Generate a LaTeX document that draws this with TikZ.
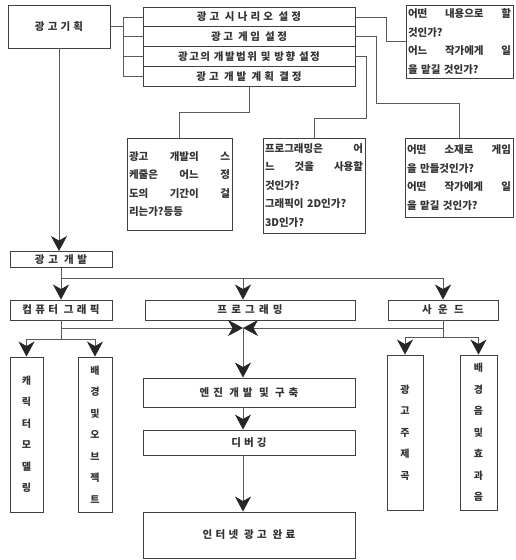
\documentclass[tikz,border=0pt]{standalone}
\usepackage{fontspec}
\setmainfont{Noto Sans CJK KR}
\usetikzlibrary{arrows.meta}

\begin{document}
\begin{tikzpicture}[x=1pt, y=-1pt,
  box/.style={draw=black!75, line width=0.9pt, inner sep=0pt, text=black!80, font=\bfseries\fontsize{10.5}{12}\selectfont},
  qbox/.style={box, align=left, inner sep=2pt, font=\bfseries\fontsize{10.5}{18.5}\selectfont},
  vbox/.style={box, align=center, minimum height=155, font=\bfseries\fontsize{10}{21.5}\selectfont},
  line/.style={draw=black!65, line width=0.8pt},
  arr/.style={line, -{Stealth[length=15pt, width=16pt, inset=4.5pt, color=black!85]}}]

\useasboundingbox (0,0) rectangle (516,560);

%% planning stage
\path
(59,26.5) node[box, minimum width=102, minimum height=43, font=\bfseries\fontsize{10.5}{12}\selectfont\addfontfeature{LetterSpace=30}](plan) {광고기획}
(249,16.9) node[box, minimum width=212, minimum height=19.75, font=\bfseries\fontsize{10.5}{12}\selectfont\addfontfeature{LetterSpace=30}](scen) {광고 시나리오 설정}
(249,36.6) node[box, minimum width=212, minimum height=19.75, font=\bfseries\fontsize{10.5}{12}\selectfont\addfontfeature{LetterSpace=25}](game) {광고 게임 설정}
(249,56.4) node[box, minimum width=212, minimum height=19.75, font=\bfseries\fontsize{10.5}{12}\selectfont\addfontfeature{LetterSpace=14}](range) {광고의 개발범위 및 방향 설정}
(249,76.1) node[box, minimum width=212, minimum height=19.75, font=\bfseries\fontsize{10.5}{12}\selectfont\addfontfeature{LetterSpace=28}](sched) {광고 개발 계획 결정};

%% question boxes
\path
(459.5,41.5) node[qbox, text width=103, minimum height=73](qscen) {어떤\hfill 내용으로\hfill 할\\ 것인가?\\ 어느\hfill 작가에게\hfill 일\\ 을 맡길 것인가?}
(459,177.5) node[qbox, text width=104, minimum height=79](qgame) {어떤\hfill 소재로\hfill 게임\\ 을 만들것인가?\\ 어떤\hfill 작가에게\hfill 일\\ 을 맡길 것인가?}
(314,185.5) node[qbox, text width=98, minimum height=95](qrange) {프로그래밍은\hfill 어\\ 느\hfill 것을\hfill 사용할\\ 것인가?\\ 그래픽이 2D인가?\\ 3D인가?}
(179.5,184) node[qbox, text width=101, minimum height=92](qsched) {광고\hfill 개발의\hfill 스\\ 케줄은\hfill 어느\hfill 정\\ 도의\hfill 기간이\hfill 걸\\ 리는가?등등};

%% development stage
\path
(61,259.5) node[box, minimum width=102, minimum height=16, font=\bfseries\fontsize{10.5}{12}\selectfont\addfontfeature{LetterSpace=35}](dev) {광고 개발}
(61,310) node[box, minimum width=102, minimum height=20, font=\bfseries\fontsize{10.5}{12}\selectfont\addfontfeature{LetterSpace=32}](cg) {컴퓨터 그래픽}
(250,310) node[box, minimum width=210, minimum height=20, font=\bfseries\fontsize{10.5}{12}\selectfont\addfontfeature{LetterSpace=40}](prog) {프로그래밍}
(443,310) node[box, minimum width=110, minimum height=20, font=\bfseries\fontsize{10.5}{12}\selectfont\addfontfeature{LetterSpace=60}](snd) {사운드}
(26.5,434.5) node[vbox, minimum width=33](chr) {캐\\릭\\터\\모\\델\\링}
(95,434.5) node[vbox, minimum width=34](bg) {배\\경\\및\\오\\브\\젝\\트}
(405,432.5) node[vbox, minimum width=36](theme) {광\\고\\주\\제\\곡}
(478.5,432.5) node[vbox, minimum width=37](sfx) {배\\경\\음\\및\\효\\과\\음}
(249,392.5) node[box, minimum width=212, minimum height=29, font=\bfseries\fontsize{10.5}{12}\selectfont\addfontfeature{LetterSpace=38}](eng) {엔진 개발 및 구축}
(249,442.5) node[box, minimum width=212, minimum height=25, font=\bfseries\fontsize{10.5}{12}\selectfont\addfontfeature{LetterSpace=30}](dbg) {디버깅}
(249,535) node[box, minimum width=212, minimum height=46, font=\bfseries\fontsize{10.5}{12}\selectfont\addfontfeature{LetterSpace=32}](fin) {인터넷 광고 완료};

\coordinate (pbus) at (123,0);
\coordinate (bus) at (0,278);
\coordinate (mid) at (243,0);
\coordinate (tie) at (243,328);

%% plan to its four settings
\draw[line] (plan.east) -- (plan.east -| pbus);
\draw[line] (scen.west -| pbus) -- (sched.west -| pbus);
\foreach \n in {scen,game,range,sched}
  \draw[line] (\n.west) -- (\n.west -| pbus);

%% settings to questions
\draw[line] (scen.east) -- ++(31,0) |- (qscen.west);
\draw[line] (game.east) -- ++(21,0) |- (qgame.north |- 0,103) -- (qgame.north);
\draw[line] (range.east) -- ++(11,0) |- (qrange.north |- 0,118) -- (qrange.north);
\draw[line] (sched.south) -- ++(0,26) -| (qsched.north);

%% plan to development
\draw[arr] (plan.south) -- (plan.south |- dev.north);
\draw[line] (dev.south) -- (dev.south |- bus) -- (snd.north |- bus);
\draw[arr] (dev.south |- bus) -- (cg.north);
\draw[arr] (mid |- bus) -- (prog.north -| mid);
\draw[arr] (snd.north |- bus) -- (snd.north);

%% graphics and sound branches
\draw[line] (cg.south) -- (cg.south |- 0,339);
\draw[line] (chr.north |- 0,339) -- (bg.north |- 0,339);
\draw[arr] (chr.north |- 0,339) -- (chr.north);
\draw[arr] (bg.north |- 0,339) -- (bg.north);
\draw[line] (snd.south) -- (snd.south |- 0,337);
\draw[line] (theme.north |- 0,337) -- (sfx.north |- 0,337);
\draw[arr] (theme.north |- 0,337) -- (theme.north);
\draw[arr] (sfx.north |- 0,337) -- (sfx.north);

%% merge into the engine
\draw[arr] (cg.south |- tie) -- (tie);
\draw[arr] (snd.south |- tie) -- (tie);
\draw[arr] (tie) -- (eng.north -| mid);
\draw[arr] (eng.south -| mid) -- (dbg.north -| mid);
\draw[arr] (dbg.south -| mid) -- (fin.north -| mid);

\end{tikzpicture}
\end{document}
